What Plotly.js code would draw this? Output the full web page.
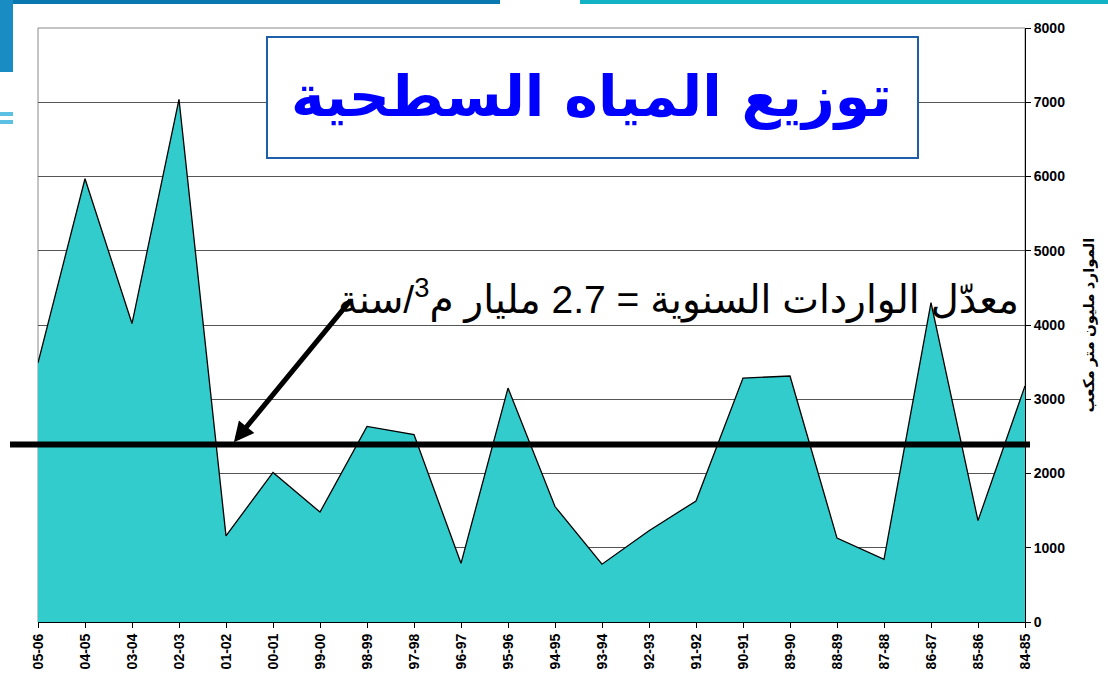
<!DOCTYPE html>
<html>
<head>
<meta charset="utf-8">
<script src="https://cdn.plot.ly/plotly-3.0.1.min.js"></script>
<style>
  html, body { margin: 0; padding: 0; background: #ffffff; }
  #chart { width: 1108px; height: 684px; }
</style>
</head>
<body>
<div id="chart"></div>
<script>
// ---- data ----
const seasons = ["05-06","04-05","03-04","02-03","01-02","00-01","99-00","98-99","97-98","96-97","95-96",
                 "94-95","93-94","92-93","91-92","90-91","89-90","88-89","87-88","86-87","85-86","84-85"];
const surfaceWater = [3490, 5970, 4020, 7040, 1160, 2015, 1480, 2635, 2525, 790, 3150,
                      1555, 778, 1230, 1630, 3285, 3313, 1130, 845, 4300, 1365, 3180];
const averageLine = [2390];
const yTickValues = [0, 1000, 2000, 3000, 4000, 5000, 6000, 7000, 8000];
const chartTitle = "توزيع المياه السطحية";
const yAxisTitle = "الموارد مليون متر مكعب";
const averageText = "معدّل الواردات السنوية = 2.7 مليار م<sup>3</sup>/سنة";

// ---- chart ----
const boldFont = {family: "Liberation Sans, Arial, sans-serif", size: 14, color: "#000", weight: "bold"};

const trace = {
  type: "scatter",
  mode: "lines",
  x: seasons,
  y: surfaceWater,
  fill: "tozeroy",
  fillcolor: "#33CCCC",
  line: {color: "#000000", width: 1.3},
  hoverinfo: "x+y"
};

// pixel helpers for decorations outside the plot
const L = 38, R = 1025, T = 28, B = 622;
const px = v => (v - L) / (R - L);
const py = v => (B - v) / (B - T);

const layout = {
  width: 1108,
  height: 684,
  margin: {l: L, r: 1108 - R, t: T, b: 684 - B, pad: 0},
  paper_bgcolor: "#ffffff",
  plot_bgcolor: "#ffffff",
  showlegend: false,
  xaxis: {
    type: "category",
    categoryorder: "array",
    categoryarray: seasons,
    range: [0, seasons.length - 1],
    tickangle: -90,
    tickfont: boldFont,
    ticks: "outside",
    ticklen: 5,
    tickcolor: "#000",
    showline: true,
    linecolor: "#000",
    linewidth: 1,
    showgrid: false,
    zeroline: false,
    fixedrange: true
  },
  yaxis: {
    side: "right",
    range: [0, 8000],
    tickvals: yTickValues,
    ticktext: yTickValues.map(String),
    tickfont: boldFont,
    ticks: "outside",
    ticklen: 5,
    tickcolor: "#000",
    showline: true,
    linecolor: "#000",
    linewidth: 1,
    showgrid: true,
    gridcolor: "#555555",
    gridwidth: 1,
    zeroline: false,
    fixedrange: true,
    title: {text: yAxisTitle, font: {family: "Liberation Sans, DejaVu Sans, sans-serif", size: 15, color: "#000", weight: "bold"}, standoff: 19}
  },
  shapes: [
    // plot-area border (grey)
    {type: "rect", xref: "paper", yref: "paper", x0: 0, x1: 1, y0: 0, y1: 1,
     line: {color: "#8a8a8a", width: 1}, layer: "below"},
    // slide decorations
    {type: "rect", xref: "paper", yref: "paper", x0: px(0), x1: px(500), y0: py(0), y1: py(4),
     fillcolor: "#0a78b0", line: {width: 0}},
    {type: "rect", xref: "paper", yref: "paper", x0: px(580), x1: px(1108), y0: py(0), y1: py(4),
     fillcolor: "#10b2c4", line: {width: 0}},
    {type: "rect", xref: "paper", yref: "paper", x0: px(0), x1: px(13), y0: py(0), y1: py(72),
     fillcolor: "#1a8cc4", line: {width: 0}},
    {type: "rect", xref: "paper", yref: "paper", x0: px(0), x1: px(13), y0: py(112), y1: py(116),
     fillcolor: "#5cc0e4", line: {width: 0}},
    {type: "rect", xref: "paper", yref: "paper", x0: px(0), x1: px(13), y0: py(120), y1: py(124),
     fillcolor: "#5cc0e4", line: {width: 0}},
    // average line
    {type: "line", xref: "paper", yref: "y", x0: px(10), x1: px(1030),
     y0: averageLine[0], y1: averageLine[0], line: {color: "#000", width: 6}},
    // title box
    {type: "rect", xref: "paper", yref: "paper", x0: px(267), x1: px(918), y0: py(158), y1: py(37),
     fillcolor: "#ffffff", line: {color: "#1f5fa8", width: 2}}
  ],
  annotations: [
    {xref: "paper", yref: "paper", x: px(591), y: py(97), xanchor: "center", yanchor: "middle",
     showarrow: false, text: chartTitle,
     font: {family: "DejaVu Sans, sans-serif", size: 57, color: "#0000ff", weight: "bold"}},
    {xref: "paper", yref: "paper", x: px(678), y: py(297), xanchor: "center", yanchor: "middle",
     showarrow: false, text: averageText,
     font: {family: "Liberation Sans, DejaVu Sans, sans-serif", size: 39, color: "#000"}},
    {xref: "paper", yref: "y", x: px(232), y: averageLine[0], text: "",
     showarrow: true, arrowhead: 2, arrowsize: 0.8, arrowwidth: 5, arrowcolor: "#000",
     axref: "pixel", ayref: "pixel", ax: 120, ay: -146, standoff: 3}
  ]
};

Plotly.newPlot("chart", [trace], layout, {staticPlot: true, displayModeBar: false});
</script>
</body>
</html>
